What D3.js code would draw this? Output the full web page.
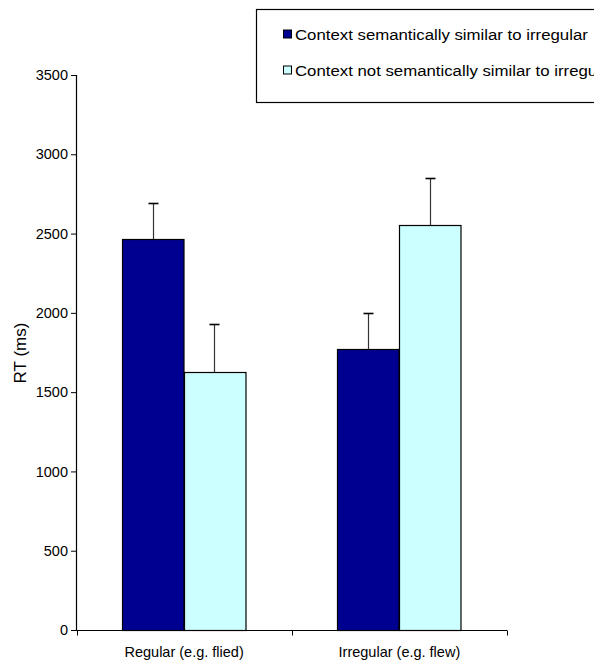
<!DOCTYPE html>
<html>
<head>
<meta charset="utf-8">
<script src="https://cdn.jsdelivr.net/npm/d3@7"></script>
<style>
  html, body { margin: 0; padding: 0; background: #fff; }
  svg { display: block; font-family: "Liberation Sans", Arial, sans-serif; }
</style>
</head>
<body>
<svg id="chart" width="594" height="664"></svg>
<script>
// ---- data ----
const categories = ["Regular (e.g. flied)", "Irregular (e.g. flew)"];
const seriesNames = ["Context semantically similar to irregular", "Context not semantically similar to irregular"];
const similarRT = [2463, 1775];
const similarErr = [227, 225];
const notSimilarRT = [1626, 2551];
const notSimilarErr = [301, 301];
const yTicks = [0, 500, 1000, 1500, 2000, 2500, 3000, 3500];
const yLabel = "RT (ms)";
const colors = ["#000090", "#ccffff"];

const seriesValues = [similarRT, notSimilarRT];
const seriesErrors = [similarErr, notSimilarErr];

const svg = d3.select("#chart");

const y = d3.scaleLinear().domain([0, 3500]).range([630, 75]);
const x0 = d3.scaleBand().domain(categories).range([76.5, 507]).padding(0);
const x1 = d3.scaleBand().domain(d3.range(seriesNames.length)).range([45.5, 168.5]).padding(0);

const rows = [];
categories.forEach((c, ci) => {
  seriesNames.forEach((s, si) => {
    rows.push({ cat: c, s: si, v: seriesValues[si][ci], e: seriesErrors[si][ci] });
  });
});

// bars
svg.append("g").selectAll("rect").data(rows).join("rect")
  .attr("x", d => Math.round(x0(d.cat) + x1(d.s)) + 0.5)
  .attr("y", d => Math.round(y(d.v)) + 0.5)
  .attr("width", x1.bandwidth())
  .attr("height", d => y(0) - Math.round(y(d.v)))
  .attr("fill", d => colors[d.s])
  .attr("stroke", "#000")
  .attr("stroke-width", 1.2);

// error bars (upper only)
const eb = svg.append("g");
rows.forEach(d => {
  const cx = Math.round(x0(d.cat) + x1(d.s) + x1.bandwidth() / 2) + 0.5;
  const yt = Math.round(y(d.v + d.e)) + 0.5;
  eb.append("line")
    .attr("x1", cx).attr("x2", cx)
    .attr("y1", Math.round(y(d.v))).attr("y2", yt)
    .attr("stroke", "#333").attr("stroke-width", 1.2);
  eb.append("line")
    .attr("x1", cx - 5).attr("x2", cx + 5)
    .attr("y1", yt).attr("y2", yt)
    .attr("stroke", "#000").attr("stroke-width", 1.6);
});

// y axis
const yAxis = svg.append("g")
  .attr("transform", "translate(76,0)")
  .call(d3.axisLeft(y).tickValues(yTicks).tickSize(5).tickPadding(3).tickFormat(d3.format("d")));
yAxis.select(".domain").attr("stroke", "#000").attr("stroke-width", 1.2);
yAxis.selectAll(".tick line").attr("stroke", "#000");
yAxis.selectAll(".tick text")
  .attr("font-size", 14.5)
  .attr("font-family", "'Liberation Sans', Arial, sans-serif")
  .attr("fill", "#000");

// y label
svg.append("text")
  .attr("transform", "translate(26,353) rotate(-90)")
  .attr("text-anchor", "middle")
  .attr("font-size", 17)
  .attr("fill", "#000")
  .text(yLabel);

// x axis
const xg = svg.append("g");
const [xa, xb] = x0.range();
xg.append("line")
  .attr("x1", xa).attr("x2", xb)
  .attr("y1", 630.5).attr("y2", 630.5)
  .attr("stroke", "#000").attr("stroke-width", 1.2);
const tickXs = [xa].concat(categories.map(c => x0(c) + x0.bandwidth()));
xg.selectAll("line.tk").data(tickXs).join("line")
  .attr("class", "tk")
  .attr("x1", d => Math.round(d) + 0.5).attr("x2", d => Math.round(d) + 0.5)
  .attr("y1", 630.5).attr("y2", 635.5)
  .attr("stroke", "#000");
xg.selectAll("text").data(categories).join("text")
  .attr("x", d => x0(d) + x0.bandwidth() / 2)
  .attr("y", 657)
  .attr("text-anchor", "middle")
  .attr("font-size", 14.5)
  .attr("fill", "#000")
  .text(d => d);

// legend
const lg = svg.append("g");
lg.append("rect")
  .attr("x", 256.5).attr("y", 9.5)
  .attr("width", 400).attr("height", 93)
  .attr("fill", "#fff").attr("stroke", "#000").attr("stroke-width", 1.2);
const legendY = d3.scalePoint().domain(d3.range(seriesNames.length)).range([34, 70]);
seriesNames.forEach((s, i) => {
  lg.append("rect")
    .attr("x", 283.5).attr("y", legendY(i) - 4)
    .attr("width", 8).attr("height", 8)
    .attr("fill", colors[i]).attr("stroke", "#000").attr("stroke-width", 1);
  lg.append("text")
    .attr("transform", `translate(295,${legendY(i) + 5.5}) scale(1.12,1)`)
    .attr("font-size", 15)
    .attr("fill", "#000")
    .text(s);
});
</script>
</body>
</html>
